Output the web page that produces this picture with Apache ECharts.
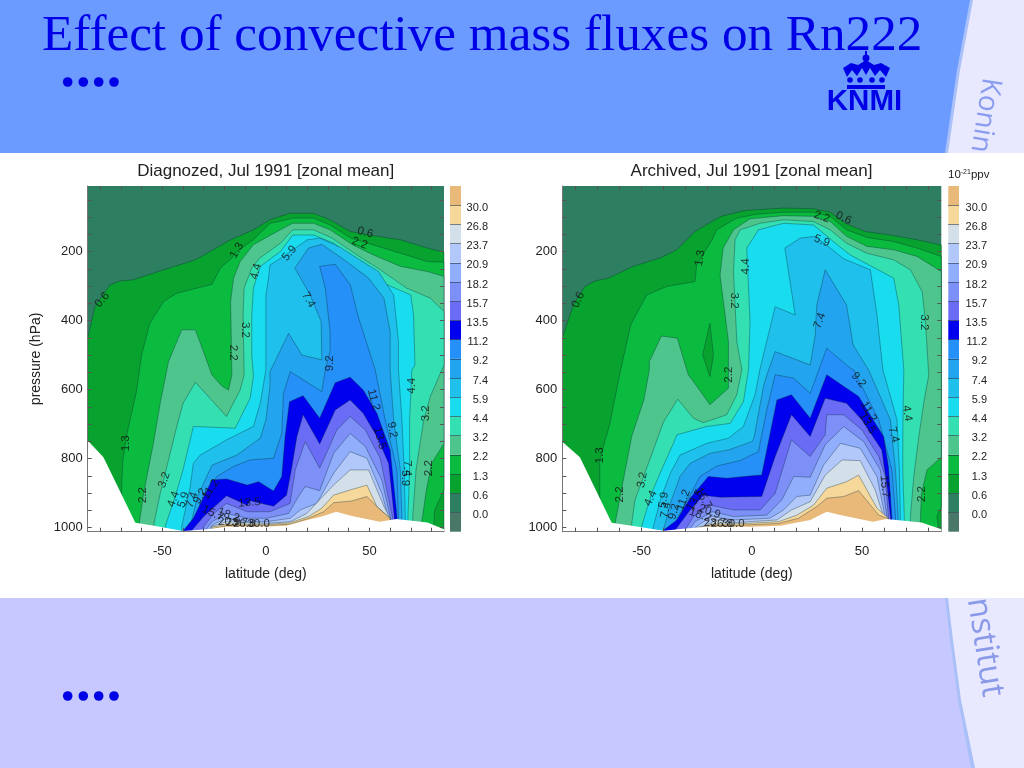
<!DOCTYPE html>
<html>
<head>
<meta charset="utf-8">
<title>Effect of convective mass fluxes on Rn222</title>
<script src="https://cdn.jsdelivr.net/npm/echarts@6/dist/echarts.min.js"></script>
<style>html,body{margin:0;padding:0;background:#fff}#chart{width:1024px;height:768px}</style>
</head>
<body>
<div id="chart"></div>
<script>
// colour bar, bottom to top
const barLabels = ['', '0.0', '0.6', '1.3', '2.2', '3.2', '4.4', '5.9', '7.4', '9.2', '11.2', '13.5', '15.7', '18.2', '20.9', '23.7', '26.8', '30.0', ''];
const barColors = ['#4a7868', '#2e7f62', '#08a32e', '#0abb3f', '#4ec58c', '#34dfb1', '#19dcef', '#1fc0ec', '#22a4ee', '#2490f8', '#0000ee', '#6a6cf6', '#7d90f8', '#90aefb', '#b2c8fb', '#d3dfe9', '#f6d89b', '#e9b97a'];

const latLabels = [-50, 0, 50];
const latTicks = [-80, -70, -60, -50, -40, -30, -20, -10, 0, 10, 20, 30, 40, 50, 60, 70, 80];
const presLabels = [200, 400, 600, 800, 1000];
const presTicks = [50, 100, 150, 200, 250, 300, 350, 400, 450, 500, 550, 600, 650, 700, 750, 800, 850, 900, 950, 1000];

// contour outlines as [latitude, pressure]
const diagSurface = [[-86,748],[-78.4,796],[-63,986],[-54,995],[-40,1010],[-28.5,1005],[-19,998],[0,997],[10,995],[20,978],[27,968],[34,954],[41,966],[55,983],[63,975],[78,985],[86,1005]];
const diag00 = [[-86,10],[86,10]];
const diag06 = [[-86,451],[-82.5,360],[-75.3,297],[-70.4,285],[-64,282],[-49.4,253],[-34,224],[-17,166],[-6,137],[2,108],[7,98],[11.7,89],[23,89],[31,108],[40.7,142],[52,154],[65,166],[78,190],[86,202]];
const diag13 = [[-69.6,877],[-69,804],[-67,727],[-62.3,601],[-60,500],[-56,408],[-49.4,345],[-43,321],[-26,295],[-22,248],[-16.4,219],[-14,200],[-6,166],[2,118],[7,112],[13,103],[23,103],[31,123],[41,161],[52,181],[65,205],[78,229],[86,231],[86,891],[81.5,949],[81,1000]];
const diag22 = [[-61,983],[-59,901],[-54.3,756],[-51,640],[-47.8,543],[-47,519],[-40.6,427],[-34,427],[-26,558],[-21,591],[-18,601],[-16.4,558],[-17,345],[-15.6,277],[-12.4,229],[-6,180],[7,137],[13,118],[23,118],[31,137],[42,181],[52,210],[65,243],[78,258],[86,272],[86,756],[80,814],[77.5,891],[75.4,978],[75,1000]];
const diag32 = [[-54,988],[-51,901],[-43,707],[-40,640],[-34,579],[-19,678],[-12.4,601],[-10.5,558],[-11,384],[-10.5,306],[-6.8,248],[-3,219],[7,176],[13,137],[23,137],[32,161],[44,210],[54,248],[68,306],[79.4,335],[86,374],[86,529],[79.4,620],[76.2,688],[72.5,833],[70.9,968],[70.9,1000]];
const diag44 = [[-48.6,997],[-43.8,910],[-40,833],[-35,707],[-14.8,712],[-7.6,625],[-6,562],[-6.8,500],[-6.8,384],[-6,306],[-2.7,243],[7,200],[13,152],[23,152],[33,176],[45.6,239],[57,292],[70,326],[71.3,384],[72,529],[70.5,543],[69.4,688],[69.4,833],[68.6,968],[68.6,1000]];
const diag59 = [[-40.6,997],[-36.5,881],[-35,814],[-31.7,790],[-19,746],[-6,707],[-2.7,640],[0,543],[0,326],[1.3,277],[2,239],[8.5,214],[20,166],[26,161],[36,188],[44,219],[54.4,258],[61.7,326],[64,461],[64,543],[65.7,688],[66.8,833],[67.3,968],[67.3,1000]];
const diag74 = [[-36.5,997],[-33,910],[-26,819],[-14,790],[-2.7,741],[0,688],[2,591],[2,548],[11,437],[17.4,500],[27,514],[26.7,403],[21.4,326],[14,248],[20.6,190],[27,179],[39,229],[49.6,277],[57,335],[60,432],[60,543],[61.7,688],[64.9,833],[65.7,968],[65.7,1000]];
const diag92 = [[-33,1000],[-31.7,930],[-23.7,852],[-15.6,823],[-7.6,804],[3.7,799],[7.7,727],[8.5,611],[11.8,548],[27,606],[28.7,543],[31,490],[31,432],[28.7,306],[26,243],[33.5,237],[40.7,296],[44.8,393],[52.8,543],[57.6,688],[63.3,833],[64,968],[64,1000]];
const diag112 = [[-40,1010],[-35,973],[-26,862],[-19,859],[-9,877],[-3.5,867],[3.7,894],[7.7,852],[9.3,736],[11.4,635],[18,618],[26,683],[33.5,580],[40.7,564],[47,601],[53.6,669],[60,775],[63.3,968],[63.3,1000]];
const diag135 = [[-36,1010],[-30,968],[-19,908],[-9,935],[-7.6,922],[3.7,938],[10,906],[12.6,823],[15,736],[18,673],[26,758],[33.5,659],[40.7,630],[47,669],[53.6,736],[59.3,814],[62,968],[62,1000]];
const diag157 = [[-30,997],[-25,959],[-19,930],[-9,954],[2,954],[11.7,930],[14.2,833],[19,751],[26,828],[34.3,717],[40.7,678],[48,717],[55.2,799],[61,968],[61,1000]];
const diag182 = [[-29,1007],[-26,983],[-19,959],[-9,973],[0.5,973],[11,959],[15.8,910],[19,881],[26,893],[32.7,785],[40.7,727],[48,765],[56,862],[60,968],[60,1000]];
const diag209 = [[-27,1005],[-26,993],[-19,973],[-9,983],[0.5,983],[11.8,973],[16.6,949],[24.6,930],[32.7,843],[40.7,780],[48.8,799],[56,901],[59,968],[59,1000]];
const diag237 = [[-26,997],[-19,983],[0.5,988],[11.8,983],[19.8,959],[32.7,877],[40.7,833],[49.6,833],[57,939],[60,973],[60,1000]];
const diag268 = [[-26,999],[-19,990],[0.5,991],[11.8,986],[20.6,968],[27,944],[32.7,906],[40.7,891],[48.8,877],[53.6,939],[60,973],[60,1000]];
const diag300 = [[-26,1003],[-19,994],[0.5,994],[11.8,990],[20.6,973],[27.9,954],[32.7,928],[41.5,923],[48.8,910],[54.4,944],[60,973],[60,1000]];

// contour outlines as [latitude, pressure]
const archSurface = [[-86,751],[-78,796],[-63.6,986],[-50,999],[-40,1009],[-30,1003],[-20.5,998],[0,998],[12.9,995],[26.5,978],[34,954],[41.7,966],[55,983],[61,975],[77,985],[86,1005]];
const arch00 = [[-86,10],[86,10]];
const arch06 = [[-86,451],[-81,355],[-75.8,301],[-71,285],[-65,277],[-54,243],[-41.7,219],[-34,195],[-25.8,142],[-14,98],[-3.8,82],[-0.8,80],[14.4,74],[28,76],[35.6,86],[42.4,118],[51.5,142],[63,152],[75,166],[86,181]];
const arch13 = [[-69,872],[-69,804],[-64.4,698],[-60,558],[-55,413],[-47.7,326],[-38.6,301],[-25.8,287],[-25,239],[-18,166],[-16,137],[-6.8,103],[2,92],[14.4,86],[28,86],[35.6,98],[43,137],[52.3,159],[64.4,171],[75,190],[86,214],[86,940],[84,968],[84.8,1000]];
const archHole = [[-19,408],[-22.3,500],[-19,562],[-17.4,500]];
const arch22 = [[-62,986],[-58.3,862],[-54.5,736],[-49,630],[-46.5,543],[-46.5,519],[-41,445],[-33.8,451],[-28.8,558],[-27,572],[-19,644],[-10.6,596],[-10.6,461],[-14.4,268],[-13,190],[-8.3,137],[-0.8,105],[14.4,96],[28,98],[35.6,113],[43,156],[52.3,185],[64.4,195],[75,214],[86,258],[86,796],[79.5,833],[77,901],[76.5,978],[76.5,1000]];
const arch32 = [[-54.5,988],[-53,920],[-40,693],[-33.6,628],[-26.5,683],[-22,696],[-11.4,673],[-6.8,615],[-4.5,543],[-6.8,461],[-8.3,258],[-7.6,166],[-5.3,137],[3.8,118],[14.4,108],[28,113],[35.6,137],[43,176],[52.3,205],[64.4,224],[72,253],[77.3,316],[78.8,403],[80.3,558],[78,640],[75.8,736],[73.5,852],[72,968],[72,1000]];
const arch44 = [[-50,997],[-45.5,901],[-41,833],[-35.6,756],[-34,731],[-20.5,707],[-9.8,698],[-3.8,635],[-1.5,543],[-0.8,403],[-2.3,190],[3,137],[14.4,118],[28,123],[37,171],[44.7,210],[64.4,277],[66.7,355],[69,543],[68.6,688],[68.5,833],[69.2,968],[69.2,1000]];
const arch59 = [[-44.7,997],[-41,910],[-37,843],[-32.6,790],[-20.5,756],[-10.6,741],[-3.8,707],[1.5,615],[3.8,538],[10.6,360],[19.7,384],[15,190],[22,161],[28.8,156],[35.6,190],[41.7,221],[53.8,253],[56.8,384],[59.5,543],[65.9,688],[67,833],[67.4,968],[67.4,1000]];
const arch74 = [[-40,1005],[-37,930],[-32.6,852],[-28,814],[-19,785],[-10.6,775],[0,751],[1,740],[5.3,591],[6.8,558],[10.6,490],[26.5,529],[28.8,442],[29.5,355],[33.3,253],[43,355],[46,471],[53,543],[62.9,688],[65.2,833],[66.4,968],[66.4,1000]];
const arch92 = [[-36.4,1005],[-32.6,959],[-28,906],[-23.5,852],[-16,822],[-5,805],[3,780],[6.8,659],[10.6,557],[19,567],[26.5,611],[30.3,545],[34,480],[44.7,538],[46.2,543],[57.6,688],[63.6,833],[65.2,968],[65.2,1000]];
const arch112 = [[-40,1007],[-34,978],[-28,915],[-19.7,852],[-11.4,857],[0,850],[4.5,848],[11.4,630],[18,615],[26.5,683],[34,557],[48.5,620],[59.8,736],[62,823],[63.6,973],[63.6,1000]];
const arch135 = [[-35,1009],[-28,949],[-22,906],[-14.4,912],[4.5,910],[10.6,794],[18,673],[26.5,736],[33.3,625],[43,640],[50,688],[59,775],[61.4,881],[63,973],[63,1000]];
const arch157 = [[-30,1005],[-26.5,968],[-19,935],[-8.3,949],[3.8,949],[10.6,901],[18,746],[26.5,794],[33.3,731],[34,673],[41.7,673],[50,717],[57.6,794],[60.6,852],[62,973],[62,1000]];
const arch182 = [[-28,1003],[-25.8,983],[-18,954],[-8.3,968],[6.8,964],[13.6,920],[19,852],[26.5,854],[33.3,760],[41.7,707],[50.8,751],[58.3,833],[61.4,973],[61.4,1000]];
const arch209 = [[-26,1001],[-23.5,990],[-18,968],[-8.3,978],[8.3,973],[14.4,949],[20.5,910],[26.5,906],[32.6,819],[40.2,756],[49.2,770],[56.8,852],[60.6,973],[60.6,1000]];
const arch237 = [[-25,1000],[-21,994],[-16,978],[-8.3,986],[11.4,978],[18,949],[26.5,925],[33.3,848],[41,804],[49.2,806],[56,891],[60,973],[60,1000]];
const arch268 = [[-24,1000],[-18,990],[-8.3,990],[12.1,983],[20.5,964],[28,935],[34,886],[43,867],[48.5,848],[56.8,944],[62,973],[62,1000]];
const arch300 = [[-23,1000],[-18,994],[-8.3,994],[12.1,988],[21.2,973],[29.5,939],[34,915],[41.7,910],[48.5,893],[57.6,964],[62,975],[62,1000]];

// contour labels: [latitude, pressure, text]
const diagLabels = [[-79,340,'0.6'],[-14,197,'1.3'],[-4.8,258,'4.4'],[-10,427,'3.2'],[-15.6,493,'2.2'],[11.4,205,'5.9'],[20.6,340,'7.4'],[30.7,524,'9.2'],[48,145,'0.6'],[45.3,176,'2.2'],[-67.5,756,'1.3'],[-59.4,906,'2.2'],[-49,862,'3.2'],[-44.6,918,'4.4'],[-39.8,920,'5.9'],[-35.7,920,'7.4'],[-31.7,909,'9.2'],[-26.6,889,'11.2'],[-7.9,928,'13.5'],[-25.6,959,'15.7'],[-18,964,'18.2'],[-17.7,983,'20.9'],[-14,986,'23.7'],[-10.5,988,'26.8'],[-3.5,990,'30.0'],[52,630,'11.2'],[55,741,'13.5'],[61,717,'9.2'],[68,828,'7.4'],[67.3,857,'5.9'],[70.5,589,'4.4'],[77,669,'3.2'],[78.6,828,'2.2']];
const diagLabelAngles = [50,60,75,-90,-90,50,-60,90,-15,-20,90,90,70,70,70,70,60,55,5,-25,-20,0,0,0,0,-75,-75,-80,-90,-90,90,90,90];
const archLabels = [[-78.8,340,'0.6'],[-23.5,219,'1.3'],[-2.7,243,'4.4'],[-7.9,342,'3.2'],[-10.6,557,'2.2'],[31.8,100,'2.2'],[41.7,103,'0.6'],[31.8,169,'5.9'],[30.8,400,'7.4'],[78.3,405,'3.2'],[48.5,572,'9.2'],[53,664,'11.2'],[52.6,698,'13.5'],[70.5,669,'4.4'],[64.4,731,'7.4'],[60.3,881,'15.7'],[77.3,903,'2.2'],[-69,791,'1.3'],[-60,904,'2.2'],[-49.7,862,'3.2'],[-45.9,915,'4.4'],[-40,920,'5.9'],[-39,949,'7.4'],[-35.3,954,'9.2'],[-31,920,'11.2'],[-25.8,920,'13.5'],[-22,915,'15.7'],[-23.5,964,'18.2'],[-19.2,954,'20.9'],[-16.7,986,'23.7'],[-13.6,988,'26.8'],[-8.3,988,'30.0']];
const archLabelAngles = [65,80,90,-90,90,-20,-25,-20,70,-90,-50,-60,-60,-80,-75,-85,90,90,90,80,65,80,80,75,70,60,-60,-20,-20,0,0,0];

const diagLayers = [diag00, diag06, diag13, diag22, diag32, diag44, diag59, diag74, diag92, diag112, diag135, diag157, diag182, diag209, diag237, diag268, diag300];
const archLayers = [arch00, arch06, arch13, arch22, arch32, arch44, arch59, arch74, arch92, arch112, arch135, arch157, arch182, arch209, arch237, arch268, arch300];

const SANS = '"Liberation Sans", Arial, sans-serif';
const INK = '#222';
const P_TOP = 10;
const P_BOTTOM = 1012;

// one filled outline, pushed through the grid's own axes
function polygonSeries(axisIndex, points, fill, stroke, z) {
  return {
    type: 'custom',
    coordinateSystem: 'cartesian2d',
    xAxisIndex: axisIndex,
    yAxisIndex: axisIndex,
    silent: true,
    clip: true,
    z,
    data: [points[0]],
    renderItem: (params, api) => ({
      type: 'polygon',
      shape: { points: points.map((pt) => api.coord(pt)) },
      style: { fill, stroke, lineWidth: stroke ? 0.5 : 0 },
    }),
  };
}

// outline runs along the top of a band, close it under the ground
function closeBelow(line) {
  return [...line, [line[line.length - 1][0], P_BOTTOM], [line[0][0], P_BOTTOM]];
}

function panelSeries(axisIndex, layers, surface, labels, angles, hole) {
  const out = layers.map((line, i) => polygonSeries(axisIndex, closeBelow(line), barColors[i + 1], i ? 'rgba(10,40,50,0.7)' : null, 2 + i * 0.01));
  if (hole) out.push(polygonSeries(axisIndex, hole, barColors[2], 'rgba(10,40,50,0.7)', 2.025));
  out.push(polygonSeries(axisIndex, closeBelow(surface), '#fff', null, 3));
  out.push({
    type: 'scatter',
    xAxisIndex: axisIndex,
    yAxisIndex: axisIndex,
    symbolSize: 0,
    silent: true,
    z: 4,
    data: labels.map((l, i) => ({
      value: [l[0], l[1]],
      label: { show: true, position: 'inside', formatter: l[2], rotate: angles[i], fontFamily: SANS, fontSize: 11.5, color: '#111' },
    })),
  });
  return out;
}

function colorBarSeries(axisIndex, stack) {
  return barColors.map((c) => ({
    type: 'bar',
    xAxisIndex: axisIndex,
    yAxisIndex: axisIndex,
    stack,
    barWidth: '100%',
    silent: true,
    itemStyle: { color: c },
    data: [1],
  }));
}

const tickLine = { lineStyle: { color: '#555', width: 1 } };
const fullLine = { show: true, onZero: false, lineStyle: { color: '#777', width: 1 } };
const noLine = { show: false, onZero: false };

function latAxes(gridIndex) {
  const base = {
    type: 'value', gridIndex, min: -86, max: 86, z: 10, splitLine: { show: false },
    axisTick: { show: true, inside: true, length: 4, customValues: latTicks, ...tickLine },
  };
  return [
    { ...base, position: 'bottom', axisLine: fullLine, name: 'latitude (deg)', nameLocation: 'middle', nameGap: 35, nameTextStyle: { fontFamily: SANS, fontSize: 14, color: INK },
      axisLabel: { customValues: latLabels, margin: 13, fontFamily: SANS, fontSize: 13, color: INK, formatter: String } },
    { ...base, position: 'top', axisLine: noLine, axisLabel: { show: false } },
  ];
}

function presAxes(gridIndex, name) {
  const base = {
    type: 'value', gridIndex, inverse: true, min: P_TOP, max: P_BOTTOM, z: 10, splitLine: { show: false },
    axisTick: { show: true, inside: true, length: 4, customValues: presTicks, ...tickLine },
  };
  return [
    { ...base, position: 'left', axisLine: fullLine, name, nameLocation: 'middle', nameGap: 45, nameTextStyle: { fontFamily: SANS, fontSize: 14, color: INK },
      axisLabel: { customValues: presLabels, margin: 5, fontFamily: SANS, fontSize: 13, color: INK, formatter: String } },
    { ...base, position: 'right', axisLine: noLine, axisLabel: { show: false } },
  ];
}

function barYAxis(gridIndex, margin) {
  return {
    type: 'value', gridIndex, position: 'right', min: 0, max: 18, interval: 1, z: 10,
    splitLine: { show: false }, axisLine: noLine,
    axisTick: { show: true, inside: true, length: 11, lineStyle: { color: 'rgba(30,40,60,0.55)', width: 1 } },
    axisLabel: { margin, align: 'right', verticalAlign: 'top', lineHeight: 5, fontFamily: SANS, fontSize: 11, color: INK, showMinLabel: false, showMaxLabel: false, formatter: (v) => barLabels[v] || '' },
  };
}

function barXAxis(gridIndex) {
  return { type: 'category', gridIndex, data: [''], show: false };
}

// slide furniture around the two plots
const bulletXs = [67.7, 83.3, 98.7, 114];
const slideGraphics = [
  { type: 'rect', shape: { x: 0, y: 0, width: 1024, height: 768 }, style: { fill: '#e8e8ff' } },
  { type: 'polygon', shape: { points: [[0, 0], [973, 0], [960, 70], [948, 153], [0, 153]] }, style: { fill: '#a9c0f8' } },
  { type: 'polygon', shape: { points: [[0, 0], [970, 0], [957, 70], [945, 153], [0, 153]] }, style: { fill: '#6b9bff' } },
  { type: 'polygon', shape: { points: [[0, 598], [948, 598], [953, 640], [961, 700], [975, 768], [0, 768]] }, style: { fill: '#a9c0f8' } },
  { type: 'polygon', shape: { points: [[0, 598], [945, 598], [950, 640], [958, 700], [971, 768], [0, 768]] }, style: { fill: '#c6c8ff' } },
  { type: 'text', x: 991, y: 78, rotation: -Math.PI * 0.55, style: { text: 'Konin', fontFamily: '"Open Sans", sans-serif', fontSize: 28, fill: '#8a9cf0', align: 'left', verticalAlign: 'middle' } },
  { type: 'text', x: 977, y: 598, rotation: -Math.PI * 0.45, style: { text: 'nstitut', fontFamily: '"Open Sans", sans-serif', fontSize: 33, fill: '#8a9ae8', align: 'left', verticalAlign: 'middle' } },
  { type: 'rect', shape: { x: 0, y: 153, width: 1024, height: 445 }, style: { fill: '#fff' } },
  { type: 'text', x: 42, y: 37, style: { text: 'Effect of convective mass fluxes on Rn222', fontFamily: '"Liberation Serif", serif', fontSize: 51.2, fill: '#0000e6', align: 'left', verticalAlign: 'middle' } },
  ...bulletXs.map((x) => ({ type: 'circle', shape: { cx: x, cy: 82, r: 4.8 }, style: { fill: '#0000e6' } })),
  ...bulletXs.map((x) => ({ type: 'circle', shape: { cx: x, cy: 696, r: 4.8 }, style: { fill: '#0000e6' } })),
  // KNMI crown
  { type: 'polygon', shape: { points: [[843, 68], [851, 63], [858, 65], [866, 60], [874, 65], [881, 63], [890, 68], [886, 77], [880, 70], [875, 76], [870, 68], [866, 75], [862, 68], [857, 76], [852, 70], [847, 77]] }, style: { fill: '#0000e6' } },
  { type: 'circle', shape: { cx: 866, cy: 58, r: 3.5 }, style: { fill: '#0000e6' } },
  { type: 'rect', shape: { x: 865, y: 51, width: 2, height: 5 }, style: { fill: '#0000e6' } },
  ...[850, 860, 872, 882].map((cx) => ({ type: 'circle', shape: { cx, cy: 80, r: 2.8 }, style: { fill: '#0000e6' } })),
  { type: 'rect', shape: { x: 847, y: 85, width: 38, height: 4 }, style: { fill: '#0000e6' } },
  { type: 'text', x: 864.5, y: 102, style: { text: 'KNMI', fontFamily: '"Liberation Sans", sans-serif', fontWeight: 'bold', fontSize: 29.5, fill: '#0000e6', align: 'center', verticalAlign: 'middle' } },
  { type: 'text', x: 948, y: 175, z: 5, style: { text: '{a|10}{b|-21}{a|ppv}', verticalAlign: 'middle', rich: { a: { fontFamily: SANS, fontSize: 11.5, fill: INK }, b: { fontFamily: SANS, fontSize: 7, fill: INK, padding: [0, 0, 6, 0] } } } },
];

const chart = echarts.init(document.getElementById('chart'), null, { renderer: 'canvas' });
chart.setOption({
  backgroundColor: '#fff',
  animation: false,
  graphic: { elements: slideGraphics },
  title: [
    { text: 'Diagnozed, Jul 1991 [zonal mean]', left: 265.7, top: 163, padding: 0, textAlign: 'center', textStyle: { fontFamily: SANS, fontSize: 17, fontWeight: 'normal', color: INK } },
    { text: 'Archived, Jul 1991 [zonal mean]', left: 751.5, top: 163, padding: 0, textAlign: 'center', textStyle: { fontFamily: SANS, fontSize: 17, fontWeight: 'normal', color: INK } },
  ],
  grid: [
    { left: 87.7, top: 186, width: 356.3, height: 345.7 },
    { left: 562.3, top: 186, width: 379, height: 345.7 },
    { left: 450, top: 186, width: 11, height: 345.7 },
    { left: 948.3, top: 186, width: 10.7, height: 345.7 },
  ],
  xAxis: [...latAxes(0), ...latAxes(1), barXAxis(2), barXAxis(3)],
  yAxis: [...presAxes(0, 'pressure (hPa)'), ...presAxes(1, ''), barYAxis(2, 27), barYAxis(3, 28)],
  series: [
    ...panelSeries(0, diagLayers, diagSurface, diagLabels, diagLabelAngles, null),
    ...panelSeries(2, archLayers, archSurface, archLabels, archLabelAngles, archHole),
    ...colorBarSeries(4, 'barLeft'),
    ...colorBarSeries(5, 'barRight'),
  ],
});
</script>
</body>
</html>
